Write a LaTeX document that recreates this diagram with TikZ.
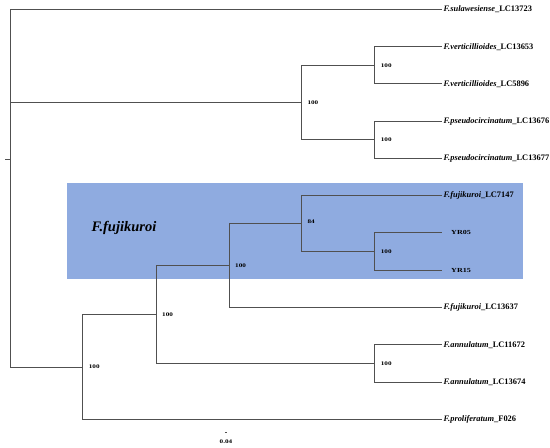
\documentclass[tikz,border=0pt]{standalone}
\usepackage{fontspec}
\setmainfont{Liberation Serif}
\newfontfamily\lblfont[FakeStretch=1.3]{Liberation Serif}
\definecolor{cladebg}{RGB}{143,171,224}
\definecolor{branch}{RGB}{80,80,80}
\begin{document}
\begin{tikzpicture}[x=1pt,y=-1pt,
  br/.style={draw=branch,line width=1pt},
  leaf/.style={anchor=west,inner sep=0pt,text=black,font=\fontsize{8.4}{9}\selectfont\bfseries},
  boot/.style={anchor=west,inner sep=0pt,text=black,font=\lblfont\fontsize{5.5}{6}\selectfont\bfseries},
  big/.style={inner sep=0pt,text=black,font=\fontsize{14.5}{16}\selectfont\bfseries\itshape}
]
\useasboundingbox (0,0) rectangle (550,448);
\fill[cladebg] (66.7,183.3) rectangle (523.3,279);
\node[big] (cl) at (124,227.7) {F.fujikuroi};

% leaf ends
\coordinate (l1) at (442,9.5);
\coordinate (l2) at (442,46.7);
\coordinate (l3) at (442,83.9);
\coordinate (l4) at (442,121.2);
\coordinate (l5) at (442,158.4);
\coordinate (l6) at (442,195.6);
\coordinate (l7) at (442,232.9);
\coordinate (l8) at (442,270.2);
\coordinate (l9) at (442,307.5);
\coordinate (l10) at (442,344.8);
\coordinate (l11) at (442,382.1);
\coordinate (l12) at (442,419.4);

% internal nodes
\coordinate (nV) at (374.7,65.3);
\coordinate (nP) at (374.7,139.8);
\coordinate (nVP) at (301.3,102.5);
\coordinate (nY) at (374.7,251.5);
\coordinate (nF1) at (301.3,223.6);
\coordinate (nF2) at (229,265.5);
\coordinate (nA) at (374.7,363.4);
\coordinate (nF3) at (156,314.5);
\coordinate (nR) at (82.7,367);
\coordinate (root) at (10,367);
\coordinate (tickA) at (5,159.3);
\coordinate (tickB) at (10,159.3);

% branches
\draw[br] (root) |- (l1);
\draw[br] (root) |- (nVP);
\draw[br] (root) -- (nR);
\draw[br] (tickA) -- (tickB);
\draw[br] (nVP) |- (nV);
\draw[br] (nVP) |- (nP);
\draw[br] (nV) |- (l2);
\draw[br] (nV) |- (l3);
\draw[br] (nP) |- (l4);
\draw[br] (nP) |- (l5);
\draw[br] (nR) |- (nF3);
\draw[br] (nR) |- (l12);
\draw[br] (nF3) |- (nF2);
\draw[br] (nF3) |- (nA);
\draw[br] (nA) |- (l10);
\draw[br] (nA) |- (l11);
\draw[br] (nF2) |- (nF1);
\draw[br] (nF2) |- (l9);
\draw[br] (nF1) |- (l6);
\draw[br] (nF1) |- (nY);
\draw[br] (nY) |- (l7);
\draw[br] (nY) |- (l8);

% leaf labels
\node[leaf] (t1) at ([xshift=1.5pt]l1) {\textit{F.sulawesiense}\_LC13723};
\node[leaf] (t2) at ([xshift=1.5pt]l2) {\textit{F.verticillioides}\_LC13653};
\node[leaf] (t3) at ([xshift=1.5pt]l3) {\textit{F.verticillioides}\_LC5896};
\node[leaf] (t4) at ([xshift=1.5pt]l4) {\textit{F.pseudocircinatum}\_LC13676};
\node[leaf] (t5) at ([xshift=1.5pt]l5) {\textit{F.pseudocircinatum}\_LC13677};
\node[leaf] (t6) at ([xshift=1.5pt]l6) {\textit{F.fujikuroi}\_LC7147};
\node[boot,font=\lblfont\fontsize{6.2}{7}\selectfont\bfseries] (t7) at ([xshift=9pt]l7) {YR05};
\node[boot,font=\lblfont\fontsize{6.2}{7}\selectfont\bfseries] (t8) at ([xshift=9pt]l8) {YR15};
\node[leaf] (t9) at ([xshift=1.5pt]l9) {\textit{F.fujikuroi}\_LC13637};
\node[leaf] (t10) at ([xshift=1.5pt]l10) {\textit{F.annulatum}\_LC11672};
\node[leaf] (t11) at ([xshift=1.5pt]l11) {\textit{F.annulatum}\_LC13674};
\node[leaf] (t12) at ([xshift=1.5pt]l12) {\textit{F.proliferatum}\_F026};

% bootstrap values
\node[boot] (bV) at ([xshift=6pt]nV) {100};
\node[boot] (bP) at ([xshift=6pt]nP) {100};
\node[boot] (bVP) at ([xshift=6pt]nVP) {100};
\node[boot] (bY) at ([xshift=6pt]nY) {100};
\node[boot] (bF1) at ([xshift=6pt,yshift=2pt]nF1) {84};
\node[boot] (bF2) at ([xshift=6pt]nF2) {100};
\node[boot] (bF3) at ([xshift=6pt]nF3) {100};
\node[boot] (bA) at ([xshift=6pt]nA) {100};
\node[boot] (bR) at ([xshift=6pt]nR) {100};

% scale bar
\coordinate (sA) at (224.8,432);
\coordinate (sB) at (227.2,432);
\draw[br,line width=0.6pt] (sA) -- (sB);
\node[boot,anchor=center] (sl) at (226,442) {0.04};
\end{tikzpicture}
\end{document}
